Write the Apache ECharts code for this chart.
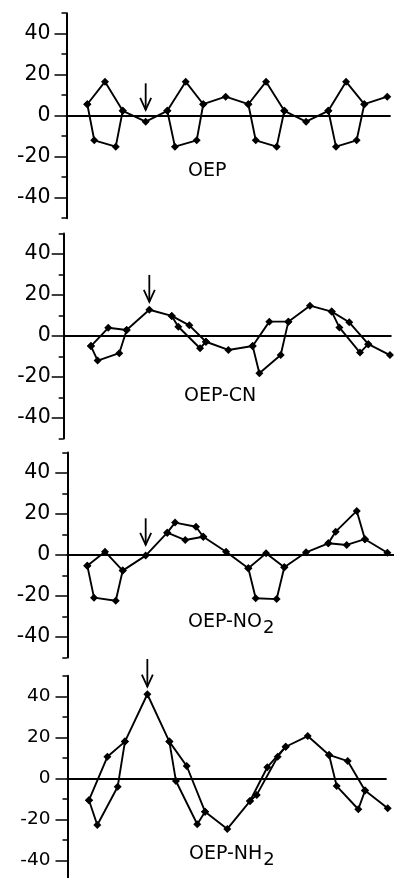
<!DOCTYPE html>
<html>
<head>
<meta charset="utf-8">
<script src="https://cdn.jsdelivr.net/npm/echarts@6/dist/echarts.min.js"></script>
<style>
html,body{margin:0;padding:0;background:#fff;}
#chart{width:394px;height:878px;}
</style>
</head>
<body>
<div id="chart"></div>
<script>
// Atom order per pyrrole: Cα, Cβ, N, Cβ, Cα, then meso (x4 = 24 core atoms)
const panelNames = ['OEP', 'OEP-CN', 'OEP-NO', 'OEP-NH'];
const panelSubs = ['', '', '2', '2'];

const oepX = [1.55, 2.07, 2.87, 3.67, 4.19, 5.90, 7.51, 8.08, 8.88, 9.70, 10.19, 11.86, 13.55, 14.10, 14.87, 15.66, 16.23, 17.85, 19.51, 20.08, 20.83, 21.62, 22.19, 23.90];
const oepY = [5.6, -12.0, 16.6, -15.1, 2.4, -2.9, 2.4, -15.1, 16.6, -12.0, 5.6, 9.3, 5.6, -12.0, 16.6, -15.1, 2.4, -2.9, 2.4, -15.1, 16.6, -12.0, 5.6, 9.3];

const cnX = [2.03, 2.53, 3.32, 4.14, 4.69, 6.38, 8.05, 8.54, 9.36, 10.16, 10.60, 12.27, 14.08, 14.58, 15.32, 16.17, 16.74, 18.35, 19.97, 20.54, 21.28, 22.08, 22.70, 24.31];
const cnY = [-4.9, -12.0, 4.0, -8.4, 2.9, 12.8, 9.8, 4.5, 5.2, -6.0, -2.8, -6.8, -4.9, -18.2, 7.0, -9.3, 7.0, 14.8, 11.9, 4.2, 6.7, -8.1, -4.0, -9.3];

const no2X = [1.49, 1.99, 2.81, 3.61, 4.13, 5.84, 7.45, 8.03, 8.79, 9.59, 10.13, 11.83, 13.49, 14.04, 14.81, 15.60, 16.17, 17.79, 19.45, 20.00, 20.82, 21.57, 22.18, 23.85];
const no2Y = [-5.2, -20.8, 1.6, -22.3, -7.6, -0.3, 10.9, 15.8, 7.3, 13.8, 8.9, 1.6, -6.5, -21.1, 0.8, -21.5, -6.0, 1.3, 5.7, 11.4, 4.9, 21.5, 7.7, 1.1];

const nh2X = [1.60, 2.22, 2.97, 3.74, 4.28, 5.95, 7.59, 8.08, 8.88, 9.67, 10.25, 11.91, 13.60, 14.10, 14.89, 15.66, 16.26, 17.90, 19.49, 20.06, 20.88, 21.67, 22.17, 23.86];
const nh2Y = [-10.7, -22.8, 10.5, -4.1, 17.9, 41.0, 17.9, -1.3, 6.0, -22.4, -16.3, -24.7, -11.1, -8.1, 5.4, 10.5, 15.4, 20.6, 11.4, -3.8, 8.4, -15.1, -6.0, -14.6];

const arrowX = [5.90, 6.38, 5.84, 5.95];
const arrowTop = [15.8, 29.8, 17.9, 58.2];
const arrowTip = [2.8, 16.7, 4.9, 44.7];

const xMax = [24.1, 24.37, 24.34, 23.73];
const yMin = -50, yMax = 50;
const majorTicks = [-40, -20, 0, 20, 40];
const minorTicks = [-50, -30, -10, 10, 30, 50];

const allX = [oepX, cnX, no2X, nh2X];
const allY = [oepY, cnY, no2Y, nh2Y];

// layout (styles only)
const gLeft = [66.5, 63.7, 67.3, 67.5];
const gTop = [13.2, 233.5, 452.5, 675.8];
const pxPerUnit = 13.42;
const gHeight = 205;
const labelSize = [20.5, 20.5, 20.5, 18.5];
const labelMargin = [16, 13, 17, 17];
const titlePos = [[188, 162], [184, 387], [188, 613], [189, 845]];
const FONT = 'DejaVu Sans';

const grids = [], xAxes = [], yAxes = [], series = [], titles = [];

for (let p = 0; p < 4; p++) {
  grids.push({left: gLeft[p], top: gTop[p], width: xMax[p] * pxPerUnit, height: gHeight, outerBoundsMode: 'none', containLabel: false});
  xAxes.push({
    type: 'value', gridIndex: p, min: 0, max: xMax[p],
    axisLine: {show: true, onZero: true, lineStyle: {color: '#000', width: 2}},
    axisTick: {show: false}, axisLabel: {show: false}, splitLine: {show: false}
  });
  yAxes.push({
    type: 'value', gridIndex: p, min: yMin, max: yMax, position: 'left',
    axisLine: {show: true, lineStyle: {color: '#000', width: 2}},
    axisTick: {show: true, customValues: majorTicks, length: 12, lineStyle: {color: '#000', width: 1.5}},
    axisLabel: {show: true, customValues: majorTicks, color: '#000', fontFamily: FONT, fontSize: labelSize[p], margin: labelMargin[p]},
    splitLine: {show: false}
  });
  yAxes.push({
    type: 'value', gridIndex: p, min: yMin, max: yMax, position: 'left',
    axisLine: {show: false},
    axisTick: {show: true, customValues: minorTicks, length: 5, lineStyle: {color: '#000', width: 1.5}},
    axisLabel: {show: false},
    splitLine: {show: false}
  });

  const xs = allX[p], ys = allY[p];
  const pt = i => [xs[i], ys[i]];
  // main ring path: Cα - N - Cα - meso ...; beta branches: Cα - Cβ - Cβ - Cα
  const main = [];
  const beta = [];
  for (let k = 0; k < 4; k++) {
    const b = 6 * k;
    main.push(pt(b), pt(b + 2), pt(b + 4), pt(b + 5));
    beta.push(pt(b), pt(b + 1), pt(b + 3), pt(b + 4), ['-', '-']);
  }
  const common = {
    type: 'line', xAxisIndex: p, yAxisIndex: 2 * p,
    symbol: 'diamond', symbolSize: 8, showSymbol: true, clip: false,
    connectNulls: false, animation: false, silent: true,
    lineStyle: {color: '#000', width: 1.9},
    itemStyle: {color: '#000'}
  };
  series.push(Object.assign({}, common, {data: main}));
  series.push(Object.assign({}, common, {data: beta}));

  series.push({
    type: 'custom', xAxisIndex: p, yAxisIndex: 2 * p, clip: false, animation: false, silent: true,
    data: [[arrowX[p], arrowTop[p], arrowTip[p]]],
    renderItem: function (params, api) {
      const a = api.coord([api.value(0), api.value(1)]);
      const t = api.coord([api.value(0), api.value(2)]);
      return {
        type: 'group',
        children: [
          {type: 'line', shape: {x1: a[0], y1: a[1], x2: t[0], y2: t[1]}, style: {stroke: '#000', lineWidth: 1.8}},
          {type: 'polyline', shape: {points: [[t[0] - 5.5, t[1] - 12], [t[0], t[1]], [t[0] + 5.5, t[1] - 12]]}, style: {stroke: '#000', lineWidth: 1.8, fill: null}}
        ]
      };
    }
  });

  const txt = panelSubs[p] ? '{a|' + panelNames[p] + '}{b|' + panelSubs[p] + '}' : '{a|' + panelNames[p] + '}';
  titles.push({
    text: txt, left: titlePos[p][0], top: titlePos[p][1], padding: 0,
    textStyle: {
      fontWeight: 'normal',
      rich: {
        a: {fontFamily: FONT, fontSize: 19, fontWeight: 'normal', color: '#000', padding: [0, 0, 6, 0]},
        b: {fontFamily: FONT, fontSize: 18, fontWeight: 'normal', color: '#000', padding: [6, 0, 0, 1]}
      }
    }
  });
}

const chart = echarts.init(document.getElementById('chart'), null, {renderer: 'canvas'});
chart.setOption({
  animation: false,
  backgroundColor: '#fff',
  title: titles,
  grid: grids,
  xAxis: xAxes,
  yAxis: yAxes,
  series: series
});
</script>
</body>
</html>
